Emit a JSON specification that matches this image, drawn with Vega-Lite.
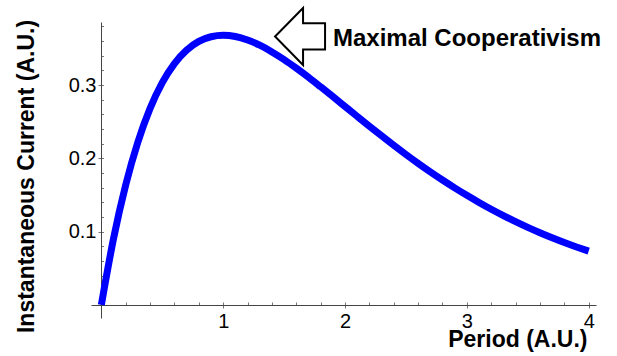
{
  "$schema": "https://vega.github.io/schema/vega-lite/v6.json",
  "width": 505,
  "height": 296,
  "autosize": {"type": "none"},
  "padding": {"left": 91, "top": 22, "right": 21, "bottom": 38},
  "background": "white",
  "config": {
    "view": {"stroke": null},
    "font": "Liberation Sans",
    "axis": {"grid": false, "domainColor": "#444", "tickColor": "#777", "labelColor": "black", "titleColor": "black", "labelFont": "Liberation Sans", "titleFont": "Liberation Sans"}
  },
  "datasets": {
    "curve": [
      {"period": 0.0, "current": 0.0},
      {"period": 0.1, "current": 0.0905},
      {"period": 0.2, "current": 0.1637},
      {"period": 0.3, "current": 0.2222},
      {"period": 0.4, "current": 0.2681},
      {"period": 0.5, "current": 0.3033},
      {"period": 0.6, "current": 0.3293},
      {"period": 0.7, "current": 0.3476},
      {"period": 0.8, "current": 0.3595},
      {"period": 0.9, "current": 0.3659},
      {"period": 1.0, "current": 0.3679},
      {"period": 1.1, "current": 0.3662},
      {"period": 1.2, "current": 0.3614},
      {"period": 1.3, "current": 0.3543},
      {"period": 1.4, "current": 0.3452},
      {"period": 1.5, "current": 0.3347},
      {"period": 1.6, "current": 0.3230},
      {"period": 1.7, "current": 0.3106},
      {"period": 1.8, "current": 0.2975},
      {"period": 1.9, "current": 0.2842},
      {"period": 2.0, "current": 0.2707},
      {"period": 2.1, "current": 0.2572},
      {"period": 2.2, "current": 0.2438},
      {"period": 2.3, "current": 0.2306},
      {"period": 2.4, "current": 0.2177},
      {"period": 2.5, "current": 0.2052},
      {"period": 2.6, "current": 0.1931},
      {"period": 2.7, "current": 0.1815},
      {"period": 2.8, "current": 0.1703},
      {"period": 2.9, "current": 0.1596},
      {"period": 3.0, "current": 0.1494},
      {"period": 3.1, "current": 0.1397},
      {"period": 3.2, "current": 0.1304},
      {"period": 3.3, "current": 0.1217},
      {"period": 3.4, "current": 0.1135},
      {"period": 3.5, "current": 0.1057},
      {"period": 3.6, "current": 0.0984},
      {"period": 3.7, "current": 0.0915},
      {"period": 3.8, "current": 0.0850},
      {"period": 3.9, "current": 0.0790},
      {"period": 4.0, "current": 0.0733}
    ],
    "note": [{"label": "Maximal Cooperativism"}]
  },
  "resolve": {"axis": {"x": "independent", "y": "independent"}},
  "layer": [
    {
      "data": {"name": "curve"},
      "mark": {"type": "line", "strokeOpacity": 0},
      "encoding": {
        "x": {"field": "period", "type": "quantitative",
          "scale": {"domain": [-0.085, 4.06], "nice": false, "zero": false},
          "axis": {"orient": "top", "offset": -283, "domain": false, "labels": false, "title": null, "tickSize": 3,
            "values": [0.2,0.4,0.6,0.8,1,1.2,1.4,1.6,1.8,2,2.2,2.4,2.6,2.8,3,3.2,3.4,3.6,3.8,4]}},
        "y": {"field": "current", "type": "quantitative",
          "scale": {"domain": [-0.018, 0.386], "nice": false, "zero": false},
          "axis": {"orient": "right", "offset": -495, "domain": false, "labels": false, "title": null, "tickSize": 2.5,
            "values": [0.02,0.04,0.06,0.08,0.1,0.12,0.14,0.16,0.18,0.2,0.22,0.24,0.26,0.28,0.3,0.32,0.34,0.36,0.38]}}
      }
    },
    {
      "data": {"name": "curve"},
      "mark": {"type": "line", "color": "#0000ff", "strokeWidth": 7, "interpolate": "monotone", "clip": false},
      "encoding": {
        "x": {"field": "period", "type": "quantitative",
          "scale": {"domain": [-0.085, 4.06], "nice": false, "zero": false},
          "axis": {"orient": "bottom", "offset": -13, "values": [1,2,3,4], "format": "d", "tickSize": 3, "labelPadding": 3,
            "labelFontSize": 20, "labelFlush": false,
            "title": "Period (A.U.)", "titleFontSize": 23, "titleFontWeight": "bold",
            "titleAnchor": null, "titleX": 496, "titleY": 41.5, "titleAlign": "right", "titleBaseline": "alphabetic"}},
        "y": {"field": "current", "type": "quantitative",
          "scale": {"domain": [-0.018, 0.386], "nice": false, "zero": false},
          "axis": {"orient": "left", "offset": -10, "values": [0.1,0.2,0.3], "format": ".1f", "tickSize": 3, "labelPadding": 2,
            "labelFontSize": 20, "labelFlush": false, "labelBaseline": "middle",
            "title": "Instantaneous Current (A.U.)", "titleFontSize": 23, "titleFontWeight": "bold",
            "titleAnchor": null, "titleAngle": -90, "titleX": -68, "titleY": 154, "titleAlign": "center", "titleBaseline": "alphabetic"}}
      }
    },
    {
      "data": {"name": "note"},
      "mark": {"type": "point", "shape": "M -0.877 0 L 0.105 -1 L 0.105 -0.46 L 0.877 -0.46 L 0.877 0.46 L 0.105 0.46 L 0.105 1 Z",
        "size": 3249, "filled": true, "fill": "white", "stroke": "black", "strokeWidth": 2, "opacity": 1, "strokeJoin": "miter"},
      "encoding": {
        "x": {"datum": 1.631, "type": "quantitative", "axis": null},
        "y": {"datum": 0.3663, "type": "quantitative", "axis": null}
      }
    },
    {
      "data": {"name": "note"},
      "mark": {"type": "text", "align": "left", "baseline": "alphabetic", "fontSize": 24, "fontWeight": "bold", "font": "Liberation Sans", "color": "black"},
      "encoding": {
        "x": {"datum": 1.901, "type": "quantitative", "axis": null},
        "y": {"datum": 0.3533, "type": "quantitative", "axis": null},
        "text": {"field": "label"}
      }
    }
  ]
}
